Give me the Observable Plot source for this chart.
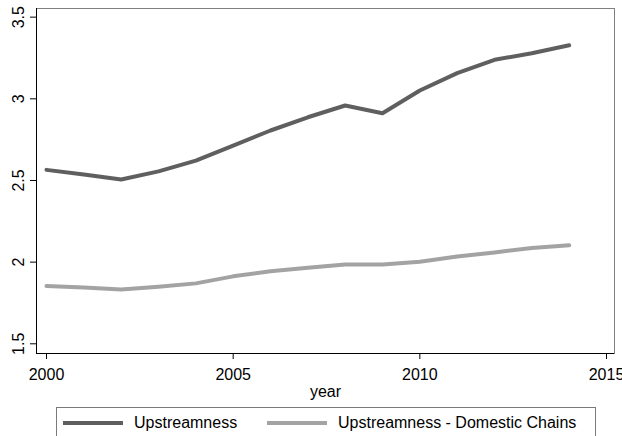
<!DOCTYPE html>
<html>
<head>
<meta charset="utf-8">
<script src="https://cdn.jsdelivr.net/npm/d3@7"></script>
<script src="https://cdn.jsdelivr.net/npm/@observablehq/plot@0.6"></script>
<style>
  html, body { margin: 0; padding: 0; background: #fff; overflow: hidden; }
  body { width: 622px; height: 436px; font-family: "Liberation Sans", Arial, sans-serif; }
  #legend {
    position: absolute; left: 56px; top: 407px; width: 540px; height: 40px;
    border: 1px solid #7a7a7a; box-sizing: border-box; font-size: 16px; color: #000;
  }
  .item { position: absolute; top: 6px; display: flex; align-items: center; height: 18px; }
  .swatch { width: 60px; height: 4px; margin-right: 11px; }
</style>
</head>
<body>
<div id="chart"></div>
<div id="legend">
  <div class="item" style="left:6px"><div class="swatch" style="background:#5f5f5f"></div><span>Upstreamness</span></div>
  <div class="item" style="left:210px"><div class="swatch" style="background:#a3a3a3"></div><span>Upstreamness - Domestic Chains</span></div>
</div>
<script>
const years = [2000,2001,2002,2003,2004,2005,2006,2007,2008,2009,2010,2011,2012,2013,2014];
const upstreamness = [2.565,2.536,2.506,2.556,2.622,2.714,2.806,2.887,2.959,2.912,3.051,3.157,3.239,3.279,3.328];
const domesticChains = [1.854,1.844,1.832,1.850,1.870,1.913,1.944,1.965,1.985,1.985,2.003,2.034,2.059,2.087,2.103];
const xTicks = [2000,2005,2010,2015];
const yTicks = [1.5,2,2.5,3,3.5];
const seriesNames = ["Upstreamness","Upstreamness - Domestic Chains"];
const seriesColors = ["#5f5f5f","#a3a3a3"];

const data = [];
years.forEach((yr, i) => {
  data.push({year: yr, value: upstreamness[i], series: seriesNames[0]});
  data.push({year: yr, value: domesticChains[i], series: seriesNames[1]});
});

const xDomain = [1999.732, 2015.214];
const yDomain = [1.4406, 3.553];

const chart = Plot.plot({
  width: 622,
  height: 404,
  marginLeft: 36,
  marginRight: 8,
  marginTop: 8,
  marginBottom: 51,
  style: {fontFamily: '"Liberation Sans", Arial, sans-serif', fontSize: "16px", color: "#000", background: "#fff", overflow: "visible"},
  x: {domain: xDomain},
  y: {domain: yDomain},
  color: {domain: seriesNames, range: seriesColors},
  marks: [
    Plot.frame({stroke: "#808080", strokeWidth: 1}),
    Plot.ruleX([xDomain[0]], {stroke: "#000", strokeWidth: 1}),
    Plot.ruleY([yDomain[0]], {stroke: "#000", strokeWidth: 1}),
    Plot.line(data, {x: "year", y: "value", z: "series", stroke: "series", strokeWidth: 4, strokeLinejoin: "round"}),
    Plot.axisX({ticks: xTicks, tickFormat: d => String(d), tickSize: 6, tickPadding: 9, fontSize: 16, label: null, stroke: "#000"}),
    Plot.axisY({ticks: yTicks, tickFormat: () => "", tickSize: 6, label: null, stroke: "#000"}),
    Plot.text(yTicks, {frameAnchor: "left", y: d => d, text: d => String(d), rotate: -90, dx: -18, fontSize: 16, textAnchor: "middle", lineAnchor: "middle", fill: "#000"}),
    Plot.text(["year"], {frameAnchor: "bottom", text: d => d, dy: 38, fontSize: 16, textAnchor: "middle", lineAnchor: "middle", fill: "#000"})
  ]
});
document.getElementById("chart").appendChild(chart);
</script>
</body>
</html>
